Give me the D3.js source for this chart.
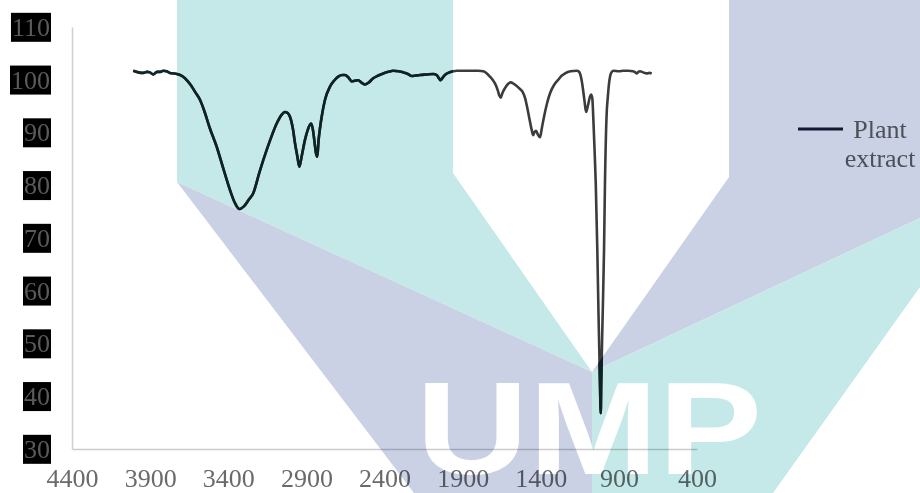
<!DOCTYPE html>
<html>
<head>
<meta charset="utf-8">
<script src="https://cdn.jsdelivr.net/npm/d3@7/dist/d3.min.js"></script>
<style>
  html, body { margin: 0; padding: 0; background: #fff; }
  svg { display: block; }
</style>
</head>
<body>
<svg id="chart" width="920" height="493"></svg>
<script>
// FTIR spectrum of the plant extract: wavenumber (cm-1) vs transmittance (%)
const wavenumbers = [
  4008, 3975, 3944, 3920, 3901, 3880, 3856, 3835, 3816, 3795, 3773, 3750, 3730,
  3700, 3677, 3640, 3610, 3581, 3550, 3520, 3474, 3430, 3389, 3355, 3329, 3300,
  3270, 3240, 3200, 3154, 3120, 3090, 3060, 3037, 3020, 3005, 2985, 2973, 2958,
  2945, 2930, 2909, 2890, 2870, 2858, 2849, 2838, 2830, 2822, 2812, 2802, 2780,
  2749, 2720, 2696, 2670, 2653, 2630, 2610, 2590, 2568, 2545, 2525, 2500, 2472,
  2440, 2408, 2375, 2344, 2310, 2280, 2250, 2226, 2200, 2173, 2130, 2088, 2066,
  2052, 2040, 2025, 2010, 1992, 1960, 1938, 1900, 1850, 1800, 1768, 1745, 1725,
  1708, 1693, 1675, 1665, 1656, 1645, 1629, 1610, 1592, 1572, 1554, 1535, 1516,
  1500, 1490, 1475, 1458, 1448, 1440, 1430, 1418, 1405, 1392, 1379, 1360, 1341,
  1315, 1288, 1265, 1245, 1210, 1170, 1155, 1149, 1140, 1132, 1120, 1110, 1102,
  1095, 1085, 1078, 1070, 1064, 1056, 1048, 1038, 1030, 1021, 1016, 1013, 1004,
  995, 989, 979, 970, 963, 955, 945, 935, 900, 870, 840, 810, 795, 786, 775,
  765, 745, 722, 705, 690
];
const transmittance = [
  101.7, 101.4, 101.3, 101.5, 101.4, 101.0, 101.5, 101.5, 101.7, 101.6, 101.3, 101.2, 101.1,
  100.8, 100.3, 99.0, 97.6, 96.2, 93.8, 91.0, 87.3, 83.0, 79.1, 76.5, 75.5, 76.0,
  77.2, 78.5, 82.5, 86.7, 89.5, 91.7, 93.3, 93.9, 93.7, 93.0, 90.5, 88.0, 85.5,
  83.5, 85.5, 88.6, 90.6, 91.7, 90.5, 88.5, 86.0, 85.4, 88.5, 91.0, 93.0, 96.3,
  98.7, 99.9, 100.6, 100.9, 100.9, 100.4, 99.7, 99.8, 99.9, 99.4, 99.1, 99.5, 100.3,
  100.8, 101.2, 101.5, 101.7, 101.6, 101.4, 101.1, 100.7, 100.8, 100.9, 101.0, 101.1, 100.9,
  100.3, 99.9, 100.5, 101.0, 101.3, 101.6, 101.7, 101.7, 101.7, 101.7, 101.6, 101.2, 100.6,
  100.0, 99.3, 98.0, 97.0, 96.6, 97.5, 98.4, 99.2, 99.5, 99.2, 98.8, 98.3, 97.7,
  96.5, 95.2, 93.0, 90.5, 89.5, 90.1, 90.3, 89.6, 89.1, 91.0, 93.0, 95.5, 97.4,
  99.0, 100.0, 100.8, 101.2, 101.6, 101.7, 101.5, 101.2, 100.2, 98.7, 96.0, 93.9, 94.6,
  95.5, 96.8, 97.2, 96.5, 93.0, 87.0, 80.4, 67.7, 55.1, 42.5, 36.8, 42.5, 55.1,
  67.7, 80.4, 93.0, 97.0, 99.3, 100.8, 101.5, 101.7, 101.6, 101.7, 101.7, 101.6, 101.4, 101.2, 101.5,
  101.6, 101.4, 101.2, 101.3, 101.2
];
const xTickValues = [4400, 3900, 3400, 2900, 2400, 1900, 1400, 900, 400];
const yTickValues = [30, 40, 50, 60, 70, 80, 90, 100, 110];
const seriesLabel = ["Plant", "extract"];

const W = 920, H = 493;
const svg = d3.select("#chart");
const serif = "'Liberation Serif', 'Times New Roman', serif";

// UMP logo artwork (teal and lavender chevrons)
const teal = "#c5e9e8", lavender = "#cad1e5";
const shapes = [
  { fill: teal,     pts: [[177, 0], [453, 0], [453, 173], [592, 372], [177, 182]] },
  { fill: lavender, pts: [[177, 182], [592, 372], [592, 493], [414, 493]] },
  { fill: lavender, pts: [[729, 0], [920, 0], [920, 218], [592, 372], [729, 177]] },
  { fill: teal,     pts: [[592, 372], [920, 218], [920, 287], [773, 493], [592, 493]] }
];
const shapePath = d => "M" + d.pts.map(p => p.join(",")).join("L") + "Z";

svg.append("rect").attr("width", W).attr("height", H).attr("fill", "#ffffff");

// region where the trace prints in its deeper tone
const defs = svg.append("defs");
const clip = defs.append("clipPath").attr("id", "deep");
clip.append("rect").attr("x", 0).attr("y", 0).attr("width", 453).attr("height", H);
clip.selectAll("path").data(shapes).join("path").attr("d", shapePath);

const x = d3.scaleLinear().domain([4400, 400]).range([72, 697]);
const y = d3.scaleLinear().domain([30, 110]).range([449, 27]);

const plot = svg.append("g");

// y axis: bare line, labels on dark boxes
const yAxis = plot.append("g")
  .attr("transform", `translate(${x(4400)},0)`)
  .call(d3.axisLeft(y).tickValues(yTickValues).tickSize(0).tickPadding(22).tickFormat(d3.format("d")));
yAxis.select(".domain").attr("stroke", "#d0d0d0").attr("stroke-width", 1.5);
yAxis.selectAll(".tick text")
  .attr("font-family", serif).attr("font-size", 26).attr("fill", "#5a5a5a");
yAxis.selectAll(".tick").each(function () {
  const t = d3.select(this);
  const bb = t.select("text").node().getBBox();
  t.insert("rect", "text")
    .attr("x", bb.x - 1).attr("y", bb.y)
    .attr("width", bb.width + 2).attr("height", bb.height)
    .attr("fill", "#000000");
});

// x axis: reversed wavenumber scale
const xAxis = plot.append("g")
  .attr("transform", `translate(0,${y(30)})`)
  .call(d3.axisBottom(x).tickValues(xTickValues).tickSize(0).tickPadding(20).tickFormat(d3.format("d")));
xAxis.select(".domain").attr("stroke", "#cccccc").attr("stroke-width", 1.5);
xAxis.selectAll(".tick text")
  .attr("font-family", serif).attr("font-size", 26).attr("fill", "#6a6a6a");

// spectrum
const points = wavenumbers.map((w, i) => [w, transmittance[i]]);
const line = d3.line()
  .x(d => x(d[0]))
  .y(d => y(d[1]))
  .curve(d3.curveMonotoneX);
plot.append("path")
  .datum(points)
  .attr("d", line)
  .attr("fill", "none")
  .attr("stroke", "#3c3c3c")
  .attr("stroke-width", 2.6)
  .attr("stroke-linejoin", "round");
plot.append("path")
  .datum(points)
  .attr("d", line)
  .attr("clip-path", "url(#deep)")
  .attr("fill", "none")
  .attr("stroke", "#102626")
  .attr("stroke-width", 2.6)
  .attr("stroke-linejoin", "round");

// legend
const legend = plot.append("g");
legend.append("line")
  .attr("x1", 798).attr("x2", 843).attr("y1", 129).attr("y2", 129)
  .attr("stroke", "#16203a").attr("stroke-width", 3);
legend.selectAll("text").data(seriesLabel).join("text")
  .attr("x", 880).attr("y", (d, i) => 137.5 + i * 29)
  .attr("text-anchor", "middle")
  .attr("font-family", serif).attr("font-size", 26).attr("fill", "#616161")
  .text(d => d);

// logo multiplied over the chart
const logo = svg.append("g").style("mix-blend-mode", "multiply");
logo.selectAll("path").data(shapes).join("path")
  .attr("d", shapePath)
  .attr("fill", d => d.fill);
logo.append("text")
  .attr("x", 416).attr("y", 474)
  .attr("font-family", "'Liberation Sans', Arial, sans-serif")
  .attr("font-weight", "bold")
  .attr("font-size", 132)
  .attr("textLength", 346)
  .attr("lengthAdjust", "spacingAndGlyphs")
  .attr("fill", "#ffffff")
  .text("UMP");
</script>
</body>
</html>
